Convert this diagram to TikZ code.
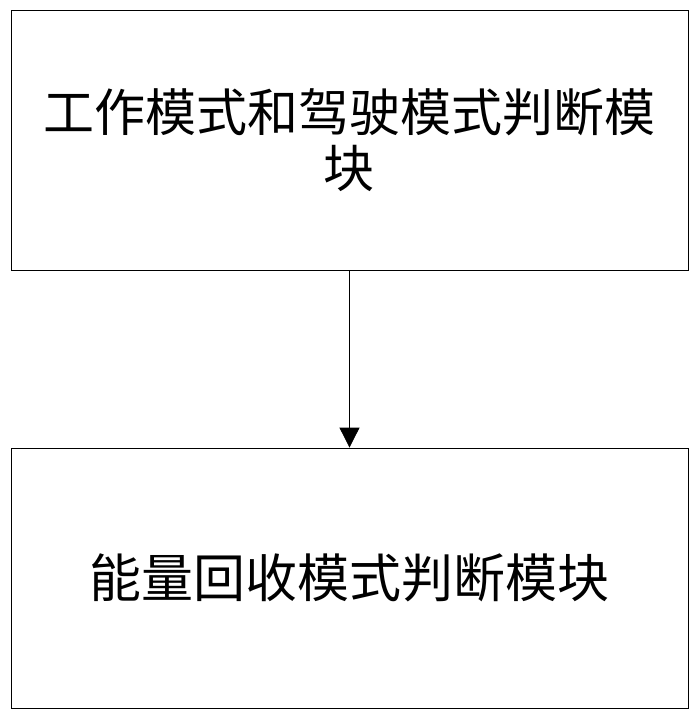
\documentclass[tikz,border=0pt]{standalone}
\usepackage{fontspec}
\setmainfont{Noto Sans CJK SC}
\usetikzlibrary{arrows.meta}
\begin{document}
\begin{tikzpicture}[x=1pt,y=1pt,
  box/.style={draw,line width=0.8pt,minimum width=677pt,minimum height=260pt,inner sep=0pt,align=center},
  conn/.style={line width=0.8pt,-{Triangle[length=20pt,width=20pt]}}]
\useasboundingbox (0,0) rectangle (698,-718);
\node[box,font=\fontsize{51}{56}\selectfont] (a) at (349.5,-140) {工作模式和驾驶模式判断模\\块};
\node[box,font=\fontsize{52}{56}\selectfont] (b) at (349.5,-578) {能量回收模式判断模块};
\draw[conn] (a.south) -- (b.north);
\end{tikzpicture}
\end{document}
